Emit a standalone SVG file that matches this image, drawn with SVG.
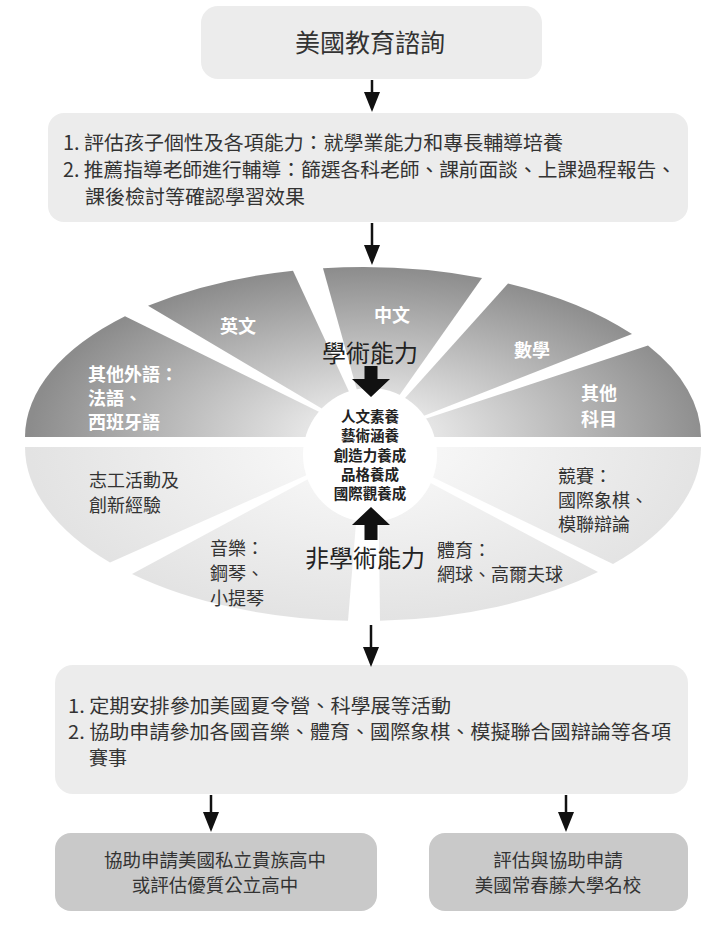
<svg xmlns="http://www.w3.org/2000/svg" width="715" height="925" viewBox="0 0 715 925">
<defs>
<radialGradient id="gUp" gradientUnits="userSpaceOnUse" cx="370" cy="437" r="340" gradientTransform="translate(0,437) scale(1,0.5) translate(0,-437)">
<stop offset="0" stop-color="#f4f4f4"/>
<stop offset="0.2" stop-color="#e4e4e4"/>
<stop offset="1" stop-color="#8c8c8c"/>
</radialGradient>
<radialGradient id="gLow" gradientUnits="userSpaceOnUse" cx="370" cy="447" r="340" gradientTransform="translate(0,447) scale(1,0.51) translate(0,-447)">
<stop offset="0" stop-color="#fbfbfb"/>
<stop offset="1" stop-color="#e3e3e3"/>
</radialGradient>
<marker id="ah" markerUnits="userSpaceOnUse" markerWidth="20" markerHeight="16" viewBox="0 0 20 16" refX="6" refY="8" orient="auto">
<path d="M0,0 L20,8 L0,16 Z" fill="#111"/>
</marker>
</defs>
<style>
.box{fill:#ececec}
.dbox{fill:#c9c9c9}
.t{font-family:"Noto Sans CJK TC","Noto Sans CJK SC",sans-serif;fill:#333}
.up{fill:url(#gUp)}
.low{fill:url(#gLow)}
.wl{font-family:"Noto Sans CJK TC","Noto Sans CJK SC",sans-serif;fill:#ffffff;font-weight:bold;font-size:18px}
.dl{font-family:"Noto Sans CJK TC","Noto Sans CJK SC",sans-serif;fill:#333;font-size:18px}
.big{font-family:"Noto Sans CJK TC","Noto Sans CJK SC",sans-serif;fill:#222;font-size:24px}
.ctr{font-family:"Noto Sans CJK TC","Noto Sans CJK SC",sans-serif;fill:#222;font-size:14.5px;font-weight:bold}
.arr{stroke:#111;stroke-width:2.5;fill:none;marker-end:url(#ah)}
</style>

<g id="title">
<rect class="box" x="201" y="6" width="341" height="73" rx="17"/>
<text class="t" x="370" y="52" font-size="25" text-anchor="middle">美國教育諮詢</text>
</g>

<g id="assess">
<rect class="box" x="48" y="113" width="640" height="109" rx="16"/>
<text class="t" font-size="19.5" x="63" y="150" textLength="500" lengthAdjust="spacingAndGlyphs">1. 評估孩子個性及各項能力：就學業能力和專長輔導培養</text>
<text class="t" font-size="19.5" x="63" y="177" textLength="613" lengthAdjust="spacingAndGlyphs">2. 推薦指導老師進行輔導：篩選各科老師、課前面談、上課過程報告、</text>
<text class="t" font-size="19.5" x="85" y="204" textLength="220" lengthAdjust="spacingAndGlyphs">課後檢討等確認學習效果</text>
</g>

<g id="sector-other-languages">
<path class="up" d="M370,437 L25,437 A338,170 0 0 1 125,316.3 Z"/>
<text class="wl" font-size="17.5"><tspan x="88" y="381">其他外語：</tspan><tspan x="88" y="405">法語、</tspan><tspan x="88" y="429">西班牙語</tspan></text>
</g>
<g id="sector-english">
<path class="up" d="M370,437 L148,305.8 A338,170 0 0 1 293,270.7 Z"/>
<text class="wl" x="238" y="333" text-anchor="middle">英文</text>
</g>
<g id="sector-chinese">
<path class="up" d="M370,437 L323,268.2 A338,170 0 0 1 482,277.9 Z"/>
<text class="wl" x="392" y="322" text-anchor="middle">中文</text>
</g>
<g id="sector-math">
<path class="up" d="M370,437 L508,283.4 A338,170 0 0 1 632,334.1 Z"/>
<text class="wl" x="532" y="357" text-anchor="middle">數學</text>
</g>
<g id="sector-other-subjects">
<path class="up" d="M370,437 L648,345.6 A338,170 0 0 1 701,437 Z"/>
<text class="wl" text-anchor="middle"><tspan x="599" y="400">其他</tspan><tspan x="599" y="426">科目</tspan></text>
</g>

<g id="sector-volunteer">
<path class="low" d="M370,447 L25,447 A338,174 0 0 0 110,562.4 Z"/>
<text class="dl" font-size="18.5"><tspan x="89" y="487">志工活動及</tspan><tspan x="89" y="512">創新經驗</tspan></text>
</g>
<g id="sector-music">
<path class="low" d="M362,450 L132,574 A338,174 0 0 0 348,620.8 Z"/>
<text class="dl"><tspan x="210" y="555">音樂：</tspan><tspan x="210" y="580">鋼琴、</tspan><tspan x="210" y="605">小提琴</tspan></text>
</g>
<g id="sector-sports">
<path class="low" d="M378,455 L380,620.8 A338,174 0 0 0 598,572.1 Z"/>
<text class="dl"><tspan x="437" y="557">體育：</tspan><tspan x="437" y="581">網球、高爾夫球</tspan></text>
</g>
<g id="sector-competition">
<path class="low" d="M370,447 L613,564.1 A338,174 0 0 0 701,447 Z"/>
<text class="dl"><tspan x="558" y="483">競賽：</tspan><tspan x="558" y="507">國際象棋、</tspan><tspan x="558" y="531">模聯辯論</tspan></text>
</g>

<g id="core">
<circle cx="370" cy="455" r="67" fill="#ffffff"/>
<text class="ctr" text-anchor="middle"><tspan x="370" y="422">人文素養</tspan><tspan x="370" y="441">藝術涵養</tspan><tspan x="370" y="461">創造力養成</tspan><tspan x="370" y="480">品格養成</tspan><tspan x="370" y="499">國際觀養成</tspan></text>
</g>

<g id="academic-label">
<text class="big" x="370" y="362" text-anchor="middle">學術能力</text>
</g>
<g id="nonacademic-label">
<text class="big" x="365" y="567" text-anchor="middle">非學術能力</text>
</g>

<g id="activities">
<rect class="box" x="55" y="665" width="633" height="129" rx="18"/>
<text class="t" font-size="19" x="68" y="713" textLength="383" lengthAdjust="spacingAndGlyphs">1. 定期安排參加美國夏令營、科學展等活動</text>
<text class="t" font-size="19" x="68" y="739" textLength="603" lengthAdjust="spacingAndGlyphs">2. 協助申請參加各國音樂、體育、國際象棋、模擬聯合國辯論等各項</text>
<text class="t" font-size="19" x="89" y="765">賽事</text>
</g>

<g id="highschool">
<rect class="dbox" x="55" y="833" width="322" height="78" rx="16"/>
<text class="t" font-size="18.5" text-anchor="middle"><tspan x="215" y="867">協助申請美國私立貴族高中</tspan><tspan x="215" y="892">或評估優質公立高中</tspan></text>
</g>

<g id="university">
<rect class="dbox" x="429" y="833" width="259" height="78" rx="16"/>
<text class="t" font-size="18.5" text-anchor="middle"><tspan x="558" y="867">評估與協助申請</tspan><tspan x="558" y="892">美國常春藤大學名校</tspan></text>
</g>

<g id="connectors">
<line class="arr" x1="372" y1="80" x2="372" y2="98"/>
<line class="arr" x1="372" y1="223" x2="372" y2="251"/>
<line class="arr" x1="371" y1="625" x2="371" y2="653"/>
<line class="arr" x1="211" y1="795" x2="211" y2="818"/>
<line class="arr" x1="566" y1="795" x2="566" y2="818"/>
<polygon points="364.5,366 377.5,366 377.5,379 390,379 371,397 352,379 364.5,379" fill="#111"/>
<polygon points="371,507 390,525 377.5,525 377.5,540 364.5,540 364.5,525 352,525" fill="#111"/>
</g>
</svg>
